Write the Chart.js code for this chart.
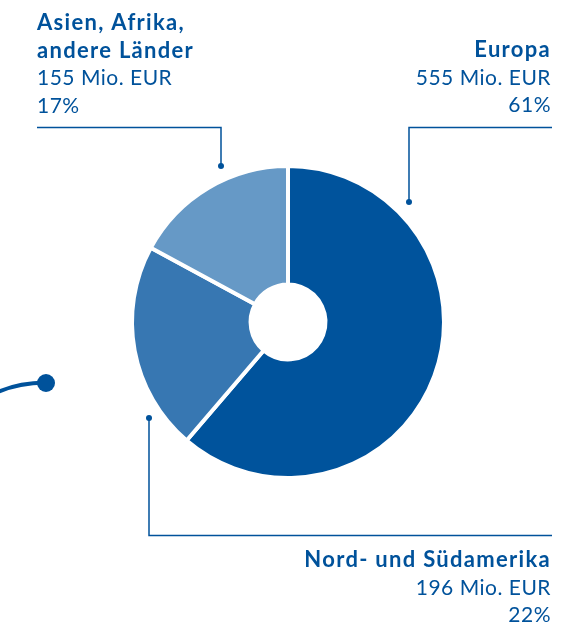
<!DOCTYPE html>
<html>
<head>
<meta charset="utf-8">
<script src="https://cdn.jsdelivr.net/npm/chart.js@4.4.1/dist/chart.umd.min.js"></script>
<style>
  html, body { margin: 0; padding: 0; background: #fff; }
  #wrap { width: 583px; height: 625px; position: relative; }
</style>
</head>
<body>
<div id="wrap"><canvas id="regionChart"></canvas></div>
<script>
// Umsatz nach Regionen
const regions = ['Europa', 'Nord- und Südamerika', 'Asien, Afrika, andere Länder'];
const revenue = [555, 196, 155];          // Mio. EUR
const shares = ['61%', '22%', '17%'];
const colors = ['#00539c', '#3777b2', '#6699c6'];

const textBlue = '#00529b';
const font = 'Lato, "Open Sans", sans-serif';

// label blocks and leader lines around the doughnut
const labelPlugin = {
    id: 'regionLabels',
    afterDraw(chart) {
        const ctx = chart.ctx;
        ctx.save();
        ctx.strokeStyle = textBlue;
        ctx.fillStyle = textBlue;
        ctx.lineWidth = 1.5;

        function dot(x, y, r) {
            ctx.beginPath();
            ctx.arc(x, y, r, 0, Math.PI * 2);
            ctx.fill();
        }
        function poly(pts) {
            ctx.beginPath();
            ctx.moveTo(pts[0][0], pts[0][1]);
            pts.slice(1).forEach(p => ctx.lineTo(p[0], p[1]));
            ctx.stroke();
        }

        // leader lines
        poly([[37, 127.5], [221, 127.5], [221, 166]]);
        dot(221, 166, 3);
        poly([[552, 127.5], [409, 127.5], [409, 202]]);
        dot(409, 202, 3);
        poly([[149, 418], [149, 535.5], [552, 535.5]]);
        dot(149, 418, 3);

        // decorative connector on the left
        ctx.lineWidth = 4;
        ctx.beginPath();
        ctx.moveTo(-2, 392);
        ctx.quadraticCurveTo(18, 383, 46, 382.5);
        ctx.stroke();
        dot(46, 383, 9);

        function block(x, align, baseLine, title, lines) {
            ctx.textAlign = align;
            ctx.textBaseline = 'alphabetic';
            let y = baseLine;
            ctx.font = 'bold 22px ' + font;
            ctx.letterSpacing = '1.3px';
            title.forEach(t => { ctx.fillText(t, x, y); y += 27.5; });
            ctx.font = '21px ' + font;
            ctx.letterSpacing = '0.5px';
            lines.forEach(t => { ctx.fillText(t, x, y); y += 27.5; });
            ctx.letterSpacing = '0px';
        }

        block(37, 'left', 30, ['Asien, Afrika,', 'andere Länder'],
            [revenue[2] + ' Mio. EUR', shares[2]]);
        block(551, 'right', 57, ['Europa'],
            [revenue[0] + ' Mio. EUR', shares[0]]);
        block(551, 'right', 567, ['Nord- und Südamerika'],
            [revenue[1] + ' Mio. EUR', shares[1]]);

        ctx.restore();
    }
};

const ctx = document.getElementById('regionChart').getContext('2d');
const chart = new Chart(ctx, {
    type: 'doughnut',
    data: {
        labels: regions,
        datasets: [{
            data: revenue,
            backgroundColor: colors,
            borderColor: '#ffffff',
            borderWidth: 4,
            hoverOffset: 0
        }]
    },
    options: {
        responsive: true,
        maintainAspectRatio: false,
        animation: false,
        cutout: '24%',
        rotation: 0,
        layout: {
            padding: { left: 130, right: 137, top: 164, bottom: 145 }
        },
        plugins: {
            legend: { display: false },
            tooltip: { enabled: false }
        }
    },
    plugins: [labelPlugin]
});
</script>
</body>
</html>
